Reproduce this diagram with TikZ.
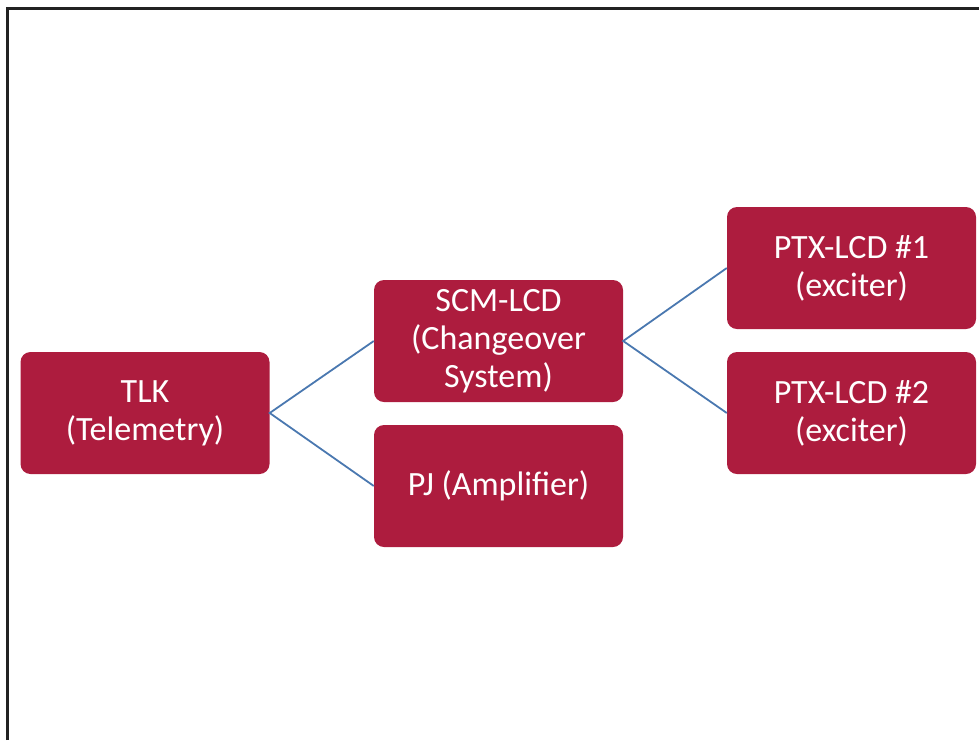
\documentclass[tikz,border=0pt]{standalone}
\usepackage{fontspec}
\setmainfont{Carlito}
\definecolor{caja}{HTML}{AD1C3E}
\definecolor{enlace}{HTML}{4A78B0}
\definecolor{marco}{HTML}{222222}
\begin{document}
\begin{tikzpicture}[x=1pt, y=-1pt,
    bloque/.style={rounded corners=10pt, minimum width=249pt, minimum height=122pt, align=center, fill=caja, text=white, font=\fontsize{34}{38}\selectfont},
    enlace/.style={draw=enlace, line width=1.8pt}
]
\useasboundingbox (0,0) rectangle (979,740);
\draw[marco, line width=3pt] (7.5,740) -- (7.5,8.5) -- (979,8.5);

\node[bloque] (tlk) at (145,413) {TLK\\(Telemetry)};
\node[bloque] (scm) at (498.5,341) {SCM-LCD\\(Changeover\\System)};
\node[bloque] (pj) at (498.5,486) {PJ (Amplifier)};
\node[bloque] (ptx1) at (851.5,268) {PTX-LCD \#1\\(exciter)};
\node[bloque] (ptx2) at (851.5,413) {PTX-LCD \#2\\(exciter)};

\draw[enlace] (scm.west) -- (tlk.east) -- (pj.west);
\draw[enlace] (ptx1.west) -- (scm.east) -- (ptx2.west);
\end{tikzpicture}
\end{document}
